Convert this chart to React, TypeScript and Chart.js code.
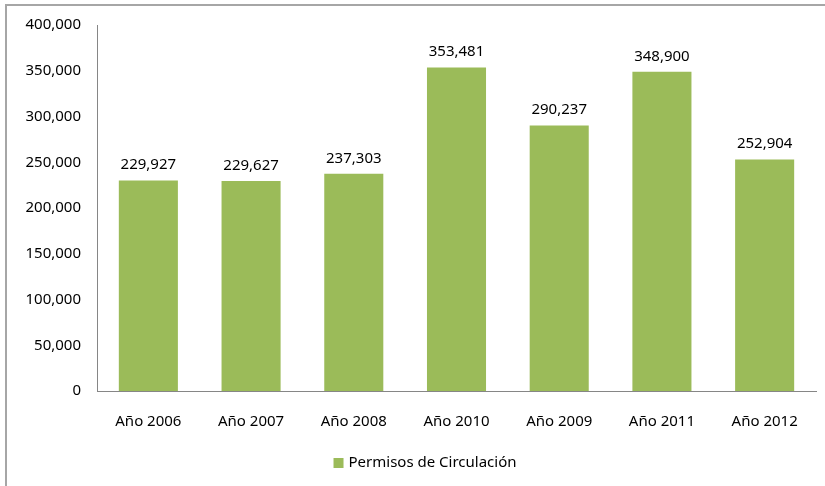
import React, { useEffect, useRef } from "react";
import { Chart, registerables } from "chart.js";

Chart.register(...registerables);

const categories = ["Año 2006", "Año 2007", "Año 2008", "Año 2010", "Año 2009", "Año 2011", "Año 2012"];
const permisos = [229927, 229627, 237303, 353481, 290237, 348900, 252904];
const seriesLabel = "Permisos de Circulación";
const yTicks = [0, 50000, 100000, 150000, 200000, 250000, 300000, 350000, 400000];

const FONT = "'Noto Sans', 'Open Sans', sans-serif";
const BAR_COLOR = "#9BBB59";
const fmt = (v: number) => v.toLocaleString("en-US");

const framePlugin = {
  id: "frame",
  beforeDraw(chart: any) {
    const ctx = chart.ctx;
    ctx.save();
    ctx.fillStyle = "#ffffff";
    ctx.fillRect(0, 0, chart.width, chart.height);
    ctx.strokeStyle = "#a6a6a6";
    ctx.lineWidth = 2;
    ctx.strokeRect(6, 5, chart.width + 20, chart.height + 20);
    ctx.restore();
  },
};

const valueLabels = {
  id: "valueLabels",
  afterDatasetsDraw(chart: any) {
    const ctx = chart.ctx;
    ctx.save();
    ctx.font = `15px ${FONT}`;
    ctx.fillStyle = "#000000";
    ctx.textAlign = "center";
    ctx.textBaseline = "bottom";
    const meta = chart.getDatasetMeta(0);
    meta.data.forEach((bar: any, i: number) => {
      const v = chart.data.datasets[0].data[i] as number;
      ctx.fillText(fmt(v), bar.x, bar.y - 8);
    });
    ctx.restore();
  },
};

const customLegend = {
  id: "customLegend",
  afterDraw(chart: any) {
    const ctx = chart.ctx;
    const label = chart.data.datasets[0].label as string;
    ctx.save();
    ctx.font = `15px ${FONT}`;
    const tw = ctx.measureText(label).width;
    const box = 10;
    const gap = 5;
    const total = box + gap + tw;
    const cx = 425;
    const cy = 463;
    const x0 = cx - total / 2;
    ctx.fillStyle = BAR_COLOR;
    ctx.fillRect(x0, cy - box / 2, box, box);
    ctx.fillStyle = "#000000";
    ctx.textAlign = "left";
    ctx.textBaseline = "middle";
    ctx.fillText(label, x0 + box + gap, cy);
    ctx.restore();
  },
};

export default function App() {
  const ref = useRef<HTMLCanvasElement | null>(null);
  useEffect(() => {
    if (!ref.current) return;
    const chart = new Chart(ref.current, {
      type: "bar",
      data: {
        labels: categories,
        datasets: [
          {
            label: seriesLabel,
            data: permisos,
            backgroundColor: BAR_COLOR,
            barPercentage: 0.575,
            categoryPercentage: 1,
          },
        ],
      },
      options: {
        animation: false,
        responsive: false,
        maintainAspectRatio: false,
        layout: { padding: { left: 0, top: 23, right: 9, bottom: 35 } },
        plugins: {
          legend: { display: false },
          tooltip: { enabled: false },
        },
        scales: {
          x: {
            grid: { display: false, drawTicks: false },
            border: { display: true, color: "#868686", width: 1 },
            ticks: { color: "#000", font: { family: FONT, size: 15 }, padding: 22, maxRotation: 0 },
            afterFit(axis: any) {
              axis.height = 60;
            },
          },
          y: {
            min: 0,
            max: 400000,
            grid: { display: false, drawTicks: false },
            border: { display: true, color: "#868686", width: 1 },
            afterBuildTicks(axis: any) {
              axis.ticks = yTicks.map((v) => ({ value: v }));
            },
            ticks: {
              color: "#000",
              font: { family: FONT, size: 15 },
              padding: 16,
              callback: (v: any) => fmt(Number(v)),
            },
            afterFit(axis: any) {
              axis.width = 97;
            },
          },
        },
      },
      plugins: [framePlugin, valueLabels, customLegend],
    });
    return () => chart.destroy();
  }, []);
  return (
    <div style={{ position: "fixed", left: 0, top: 0, width: 825, height: 486 }}>
      <canvas ref={ref} width={825} height={486} style={{ width: 825, height: 486 }} />
    </div>
  );
}
